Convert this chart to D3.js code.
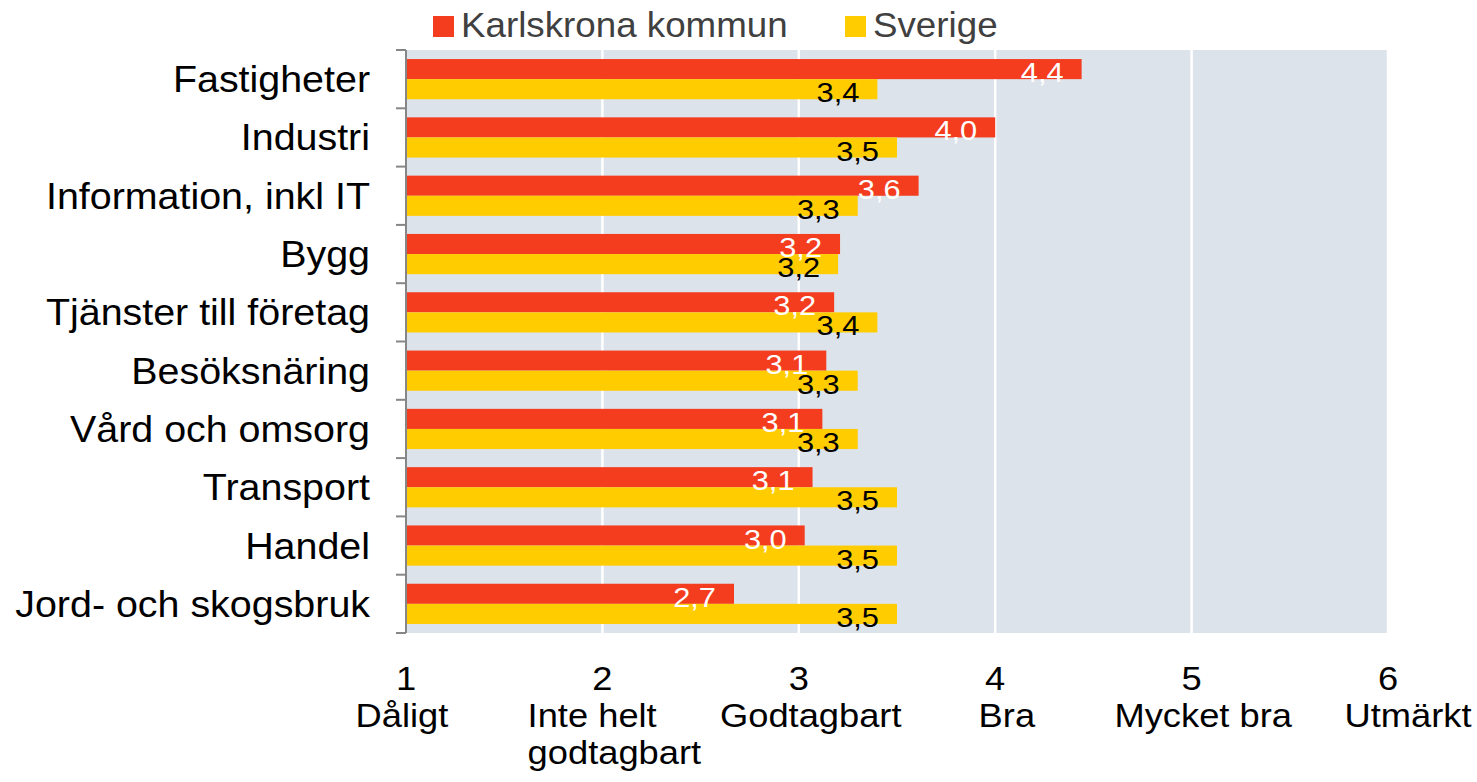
<!DOCTYPE html>
<html>
<head>
<meta charset="utf-8">
<script src="https://cdnjs.cloudflare.com/ajax/libs/d3/7.8.5/d3.min.js"></script>
<style>
  body { margin: 0; background: #fff; }
  text { font-family: "Liberation Sans", Arial, sans-serif; }
</style>
</head>
<body>
<svg id="chart" width="1477" height="782"></svg>
<script>
// data
const categories = ["Fastigheter", "Industri", "Information, inkl IT", "Bygg",
  "Tjänster till företag", "Besöksnäring", "Vård och omsorg", "Transport",
  "Handel", "Jord- och skogsbruk"];
const karlskrona = [4.44, 4.00, 3.61, 3.21, 3.18, 3.14, 3.12, 3.07, 3.03, 2.67];
const sverige = [3.40, 3.50, 3.30, 3.20, 3.40, 3.30, 3.30, 3.50, 3.50, 3.50];
const seriesNames = ["Karlskrona kommun", "Sverige"];
const tickValues = [1, 2, 3, 4, 5, 6];
const tickLabels = [["Dåligt"], ["Inte helt", "godtagbart"], ["Godtagbart"],
  ["Bra"], ["Mycket bra"], ["Utmärkt"]];

const colors = ["#f43c1f", "#ffcc00"];
const svg = d3.select("#chart");
const pLeft = 406, pRight = 1388, pTop = 50, pBottom = 633;
const sx = 1.08; // the source text is drawn a little wider than Arial

const x = d3.scaleLinear().domain([1, 6]).range([pLeft, pRight]);
const y = d3.scaleBand().domain(categories).range([pTop, pBottom]);
const inner = d3.scaleBand().domain([0, 1]).range([0, y.bandwidth()]).paddingOuter(0.45);

// plot background + gridlines
svg.append("rect")
  .attr("x", pLeft).attr("y", pTop)
  .attr("width", pRight - pLeft).attr("height", pBottom - pTop)
  .attr("fill", "#dce3ea");

svg.selectAll("line.grid")
  .data(tickValues.slice(1))
  .enter().append("line")
  .attr("class", "grid")
  .attr("x1", d => x(d)).attr("x2", d => x(d))
  .attr("y1", pTop).attr("y2", pBottom)
  .attr("stroke", "#fff").attr("stroke-width", 2.5);

// bars
const rows = categories.map((c, i) => ({ cat: c, vals: [karlskrona[i], sverige[i]] }));
const groups = svg.selectAll("g.cat")
  .data(rows)
  .enter().append("g")
  .attr("class", "cat")
  .attr("transform", d => `translate(0,${y(d.cat)})`);

groups.selectAll("rect")
  .data(d => d.vals.map((v, k) => ({ v, k })))
  .enter().append("rect")
  .attr("x", x(1))
  .attr("y", d => inner(d.k))
  .attr("width", d => x(d.v) - x(1))
  .attr("height", inner.bandwidth())
  .attr("fill", d => colors[d.k]);

const fmt = v => d3.format(".1f")(v).replace(".", ",");
groups.selectAll("text.val")
  .data(d => d.vals.map((v, k) => ({ v, k })))
  .enter().append("text")
  .attr("class", "val")
  .attr("transform", d => `translate(${x(d.v) - 18},${inner(d.k) + inner.bandwidth() + 3}) scale(1.1,1)`)
  .attr("text-anchor", "end")
  .attr("font-size", 28)
  .attr("fill", d => d.k === 0 ? "#fff" : "#000")
  .text(d => fmt(d.v));

// y axis
const yAxis = svg.append("g");
yAxis.append("line")
  .attr("x1", pLeft).attr("x2", pLeft)
  .attr("y1", pTop).attr("y2", pBottom)
  .attr("stroke", "#868686").attr("stroke-width", 2);
yAxis.selectAll("line.tick")
  .data(d3.range(categories.length + 1))
  .enter().append("line")
  .attr("class", "tick")
  .attr("x1", pLeft - 10).attr("x2", pLeft)
  .attr("y1", i => pTop + i * y.step()).attr("y2", i => pTop + i * y.step())
  .attr("stroke", "#868686").attr("stroke-width", 2);

yAxis.selectAll("text")
  .data(categories)
  .enter().append("text")
  .attr("transform", d => `translate(${pLeft - 36},${y(d) + y.bandwidth() / 2 + 13}) scale(${sx},1)`)
  .attr("text-anchor", "end")
  .attr("font-size", 36.5)
  .attr("fill", "#000")
  .text(d => d);

// x tick labels
const xl = svg.selectAll("g.xlab")
  .data(tickValues)
  .enter().append("g")
  .attr("class", "xlab");
xl.append("text")
  .attr("transform", d => `translate(${x(d)},690) scale(1.1,1)`)
  .attr("text-anchor", "middle")
  .attr("font-size", 33)
  .text(d => d);
xl.each(function(d, i) {
  const t = d3.select(this).append("text")
    .attr("font-size", 33);
  tickLabels[i].forEach((line, j) => {
    t.append("tspan").attr("x", 0).attr("y", 727 + j * 37).text(line);
  });
  const w = t.node().getBBox().width * 1.1;
  const shift = i === 0 ? -4 : (i === tickValues.length - 1 ? 20 : 12);
  t.attr("transform", `translate(${x(d) + shift - w / 2},0) scale(1.1,1)`);
});

// legend
const legX = [433, 845];
const leg = svg.selectAll("g.leg")
  .data(seriesNames)
  .enter().append("g")
  .attr("class", "leg")
  .attr("transform", (d, i) => `translate(${legX[i]},0)`);
leg.append("rect")
  .attr("x", 0).attr("y", 16)
  .attr("width", 21).attr("height", 21)
  .attr("fill", (d, i) => colors[i]);
leg.append("text")
  .attr("transform", "translate(28,37) scale(1.05,1)")
  .attr("font-size", 35)
  .attr("fill", "#404040")
  .text(d => d);
</script>
</body>
</html>
